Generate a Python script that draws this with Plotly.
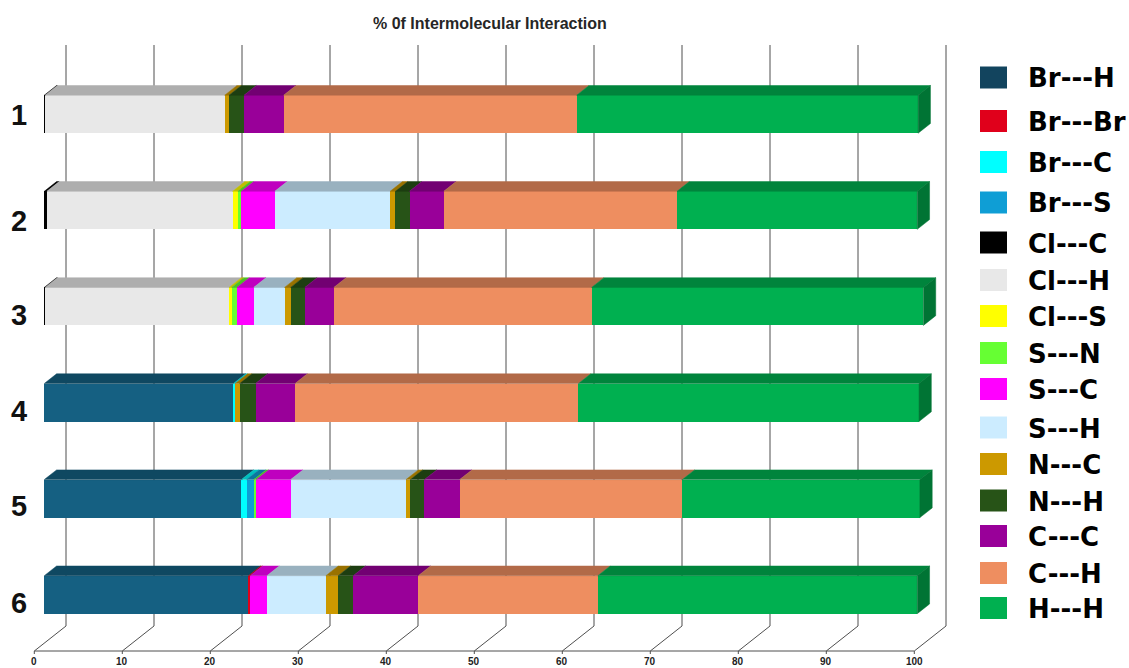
import plotly.graph_objects as go

# ---------------------------------------------------------------- data
compounds = ["1", "2", "3", "4", "5", "6"]

series_names = [
    "Br---H", "Br---Br", "Br---C", "Br---S", "Cl---C", "Cl---H", "Cl---S",
    "S---N", "S---C", "S---H", "N---C", "N---H", "C---C", "C---H", "H---H",
]

# percentage contribution of each contact, compounds 1..6
br_h = [0.0, 0.0, 0.0, 21.5, 22.4, 23.2]
br_br = [0.0, 0.0, 0.0, 0.0, 0.0, 0.2]
br_c = [0.0, 0.0, 0.0, 0.2, 0.6, 0.0]
br_s = [0.0, 0.0, 0.0, 0.0, 0.8, 0.0]
cl_c = [0.1, 0.3, 0.1, 0.0, 0.0, 0.0]
cl_h = [20.4, 21.1, 20.9, 0.0, 0.0, 0.0]
cl_s = [0.0, 0.6, 0.3, 0.0, 0.0, 0.0]
s_n = [0.0, 0.4, 0.6, 0.0, 0.3, 0.0]
s_c = [0.0, 3.8, 1.9, 0.0, 3.9, 1.9]
s_h = [0.0, 13.1, 3.5, 0.0, 13.1, 6.7]
n_c = [0.5, 0.6, 0.7, 0.5, 0.5, 1.4]
n_h = [1.7, 1.6, 1.6, 1.8, 1.6, 1.7]
c_c = [4.5, 3.9, 3.3, 4.5, 4.0, 7.4]
c_h = [33.3, 26.5, 29.3, 32.2, 25.3, 20.4]
h_h = [38.8, 27.3, 37.7, 38.7, 27.0, 36.3]

series_values = [br_h, br_br, br_c, br_s, cl_c, cl_h, cl_s,
                 s_n, s_c, s_h, n_c, n_h, c_c, c_h, h_h]

axis_ticks = [0, 10, 20, 30, 40, 50, 60, 70, 80, 90, 100]

# ---------------------------------------------------------------- styles
front_colors = [
    "#156082", "#E0001B", "#00FFFF", "#0F9ED5", "#000000", "#E8E8E8",
    "#FFFF00", "#66FF33", "#FF00FF", "#CCECFF", "#CC9900", "#275317",
    "#990099", "#EE8E60", "#00B050",
]
legend_colors = list(front_colors)
legend_colors[0] = "#12445E"

TOP_SHADE = 0.75
SIDE_SHADE = 0.66


def shade(hex_color, k):
    r, g, b = (int(hex_color[i:i + 2], 16) for i in (1, 3, 5))
    return "rgb({},{},{})".format(int(r * k), int(g * k), int(b * k))


# ---------------------------------------------------------------- geometry
W, H = 1129, 668
X_PX = 8.8        # px per percentage point
Y_PX = 96.1       # px per compound step
X0_PX = 44.3      # px position of 0 on the bar front plane
Y1_PX = 114.2     # px position of compound 1 centre
BAR_H_PX = 38.0

# oblique depth offsets relative to the bar front plane (px)
BAR_DEPTH = (12.3, -9.7)
FLOOR_FRONT = (-10.0, 7.9)
BACK_WALL = (21.7, -17.1)

FLOOR_FRONT_Y = 651.0
FLOOR_BACK_Y = 626.0
GRID_TOP_Y = 45.0


def ux(px):
    return (px - X0_PX) / X_PX


def uy(py):
    return 1 + (py - Y1_PX) / Y_PX


def dxu(px):
    return px / X_PX


def dyu(py):
    return py / Y_PX


ypos = list(range(1, len(compounds) + 1))
bar_w = dyu(BAR_H_PX)
ddx, ddy = dxu(BAR_DEPTH[0]), dyu(BAR_DEPTH[1])

fig = go.Figure()

# front faces of the stacked bars
for name, vals, col in zip(series_names, series_values, front_colors):
    fig.add_trace(go.Bar(
        y=ypos, x=vals, orientation="h", name=name, width=bar_w,
        marker=dict(color=col, line=dict(width=0)), showlegend=False,
        hoverinfo="x+name",
    ))

# top faces of every segment
starts = [0.0] * len(compounds)
for name, vals, col in zip(series_names, series_values, front_colors):
    xs, ys = [], []
    for i, v in enumerate(vals):
        x0 = starts[i]
        x1 = x0 + v
        if v > 0:
            yt = ypos[i] - bar_w / 2
            xs += [x0, x1, x1 + ddx, x0 + ddx, x0, None]
            ys += [yt, yt, yt + ddy, yt + ddy, yt, None]
        starts[i] = x1
    if xs:
        tc = shade(col, TOP_SHADE)
        fig.add_trace(go.Scatter(
            x=xs, y=ys, mode="lines", fill="toself", fillcolor=tc,
            line=dict(color=tc, width=0.5), showlegend=False, hoverinfo="skip",
        ))

# end caps (right side face of the last segment)
totals = starts
sc = shade(front_colors[-1], SIDE_SHADE)
xs, ys = [], []
for i, t in enumerate(totals):
    yt = ypos[i] - bar_w / 2
    yb = ypos[i] + bar_w / 2
    xs += [t, t + ddx, t + ddx, t, t, None]
    ys += [yt, yt + ddy, yb + ddy, yb, yt, None]
fig.add_trace(go.Scatter(
    x=xs, y=ys, mode="lines", fill="toself", fillcolor=sc,
    line=dict(color=sc, width=0.5), showlegend=False, hoverinfo="skip",
))

# back wall gridlines, floor diagonals and floor front edge
GRID_COL = "#4F4F4F"
shapes = []
yf = uy(FLOOR_FRONT_Y)
yb = uy(FLOOR_BACK_Y)
yg = uy(GRID_TOP_Y)
fx = dxu(FLOOR_FRONT[0])
bx = dxu(BACK_WALL[0])
for t in axis_ticks:
    shapes.append(dict(type="line", xref="x", yref="y", x0=t + bx, x1=t + bx,
                       y0=yg, y1=yb, line=dict(color=GRID_COL, width=1),
                       layer="below"))
    shapes.append(dict(type="line", xref="x", yref="y", x0=t + fx, x1=t + bx,
                       y0=yf, y1=yb, line=dict(color=GRID_COL, width=1),
                       layer="below"))
    shapes.append(dict(type="line", xref="x", yref="y", x0=t + fx, x1=t + fx,
                       y0=yf, y1=yf + dyu(3), line=dict(color=GRID_COL, width=1),
                       layer="below"))
shapes.append(dict(type="line", xref="x", yref="y", x0=axis_ticks[0] + fx,
                   x1=axis_ticks[-1] + fx, y0=yf, y1=yf,
                   line=dict(color=GRID_COL, width=1), layer="below"))

annotations = []
for t in axis_ticks:
    annotations.append(dict(
        x=t + fx, y=uy(661), xref="x", yref="y", text="<b>{}</b>".format(t),
        showarrow=False, xanchor="center", yanchor="middle",
        font=dict(family="Liberation Sans, Arial", size=10, color="#222222"),
    ))

# compound labels
LABEL_X = 18.5
LABEL_Y = [115, 221, 315, 411, 506, 603]
for lab, py in zip(compounds, LABEL_Y):
    annotations.append(dict(
        x=LABEL_X / W, y=1 - py / H, xref="paper", yref="paper",
        text="<b>{}</b>".format(lab), showarrow=False,
        xanchor="center", yanchor="middle",
        font=dict(family="Liberation Sans, Arial", size=29, color="#111111"),
    ))

# title
annotations.append(dict(
    x=490 / W, y=1 - 24 / H, xref="paper", yref="paper",
    text="<b>% 0f Intermolecular Interaction</b>", showarrow=False,
    xanchor="center", yanchor="middle",
    font=dict(family="Liberation Sans, Arial", size=16, color="#262626"),
))

# legend
LEG_SW_X0, LEG_SW_X1 = 980, 1007
LEG_SW_H = 22
LEG_TEXT_X = 1026
LEG_Y = [77.5, 121, 162, 202.5, 242.5, 280, 316, 353, 389, 427.5,
         464, 500.5, 536, 573, 608]
for name, col, py in zip(series_names, legend_colors, LEG_Y):
    shapes.append(dict(
        type="rect", xref="paper", yref="paper",
        x0=LEG_SW_X0 / W, x1=LEG_SW_X1 / W,
        y0=1 - (py + LEG_SW_H / 2) / H, y1=1 - (py - LEG_SW_H / 2) / H,
        fillcolor=col, line=dict(width=0), layer="above",
    ))
    annotations.append(dict(
        x=LEG_TEXT_X / W, y=1 - (py + 1) / H, xref="paper", yref="paper",
        text="<b>{}</b>".format(name), showarrow=False,
        xanchor="left", yanchor="middle",
        font=dict(family="DejaVu Sans", size=26, color="#000000"),
    ))

fig.update_layout(
    width=W, height=H,
    margin=dict(l=0, r=0, t=0, b=0, pad=0),
    barmode="stack",
    bargap=0,
    plot_bgcolor="white",
    paper_bgcolor="white",
    shapes=shapes,
    annotations=annotations,
    xaxis=dict(range=[ux(0), ux(W)], visible=False, fixedrange=True),
    yaxis=dict(range=[uy(H), uy(0)], visible=False, fixedrange=True),
)

fig.write_html("out.html")
